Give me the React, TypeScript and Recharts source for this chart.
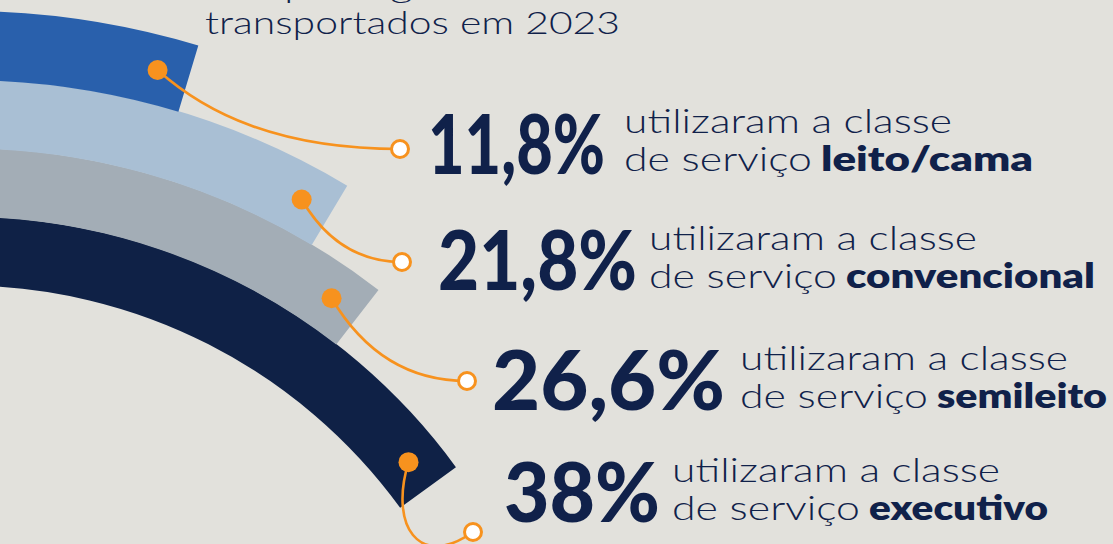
import React from 'react';
import { RadialBarChart, RadialBar, PolarAngleAxis, PolarRadiusAxis, Cell, Sector } from 'recharts';

// ---------- data ----------
const classes = ['executivo', 'semileito', 'convencional', 'leito/cama'];
const shares = [38, 26.6, 21.8, 11.8];
const shareLabels = ['38%', '26,6%', '21,8%', '11,8%'];
const titleLines = ['dos passageiros', 'transportados em 2023'];
const lineOne = 'utilizaram a classe';
const lineTwoPrefix = 'de serviço';
const angleDomain = [0, 100];

const data = classes.map((name, i) => ({ name, value: shares[i] }));

// ---------- styles / layout ----------
const BG = '#e2e1dc';
const NAVY = '#10214a';
const ORANGE = '#f7921e';
const bandColors = ['#0f2146', '#a3adb6', '#a9bfd4', '#2960ac'];
const FONT = "Lato, 'Open Sans', 'Noto Sans', sans-serif";
const NUM_SIZE = 82;
const TITLE_SIZE = 31;

// text blocks (same order as classes)
const anchors = [
  [473, 532],
  [467, 381],
  [402, 262],
  [400, 149],
];
const numberBoxes = [
  { x: 504, y: 522, w: 156 },
  { x: 492, y: 410, w: 233 },
  { x: 438, y: 290, w: 199 },
  { x: 428, y: 174, w: 177 },
];
const textBoxes = [
  { x: 672, y1: 482, y2: 520, bw: 179 },
  { x: 740, y1: 370, y2: 408, bw: 170 },
  { x: 649, y1: 250, y2: 288, bw: 249 },
  { x: 624, y1: 133, y2: 171, bw: 212 },
];
// leader curve control points as fractions of (dx, dy)
const leaderShape = [
  [-0.3, 0.9, 0.15, 1.55],
  [0.2, 0.55, 0.5, 1],
  [0.2, 0.55, 0.5, 1],
  [0.2, 0.55, 0.5, 1],
];

let measureCtx: CanvasRenderingContext2D | null = null;
function measureWidth(text: string, font: string): number {
  try {
    if (!measureCtx) measureCtx = document.createElement('canvas').getContext('2d');
    if (!measureCtx) return 0;
    measureCtx.font = font;
    return measureCtx.measureText(text).width;
  } catch (e) {
    return 0;
  }
}

const BarShape = (props: any) => {
  const { cx, cy, innerRadius, outerRadius, startAngle, endAngle, fill } = props;
  const name = props?.payload?.name ?? props?.name;
  let i = classes.indexOf(name);
  if (i < 0) i = typeof props.index === 'number' ? props.index : 0;
  const rMid = (innerRadius + outerRadius) / 2;
  const back = (32 / rMid) * (180 / Math.PI);
  const sign = Math.sign(startAngle - endAngle) || 1;
  const a = ((endAngle + sign * back) * Math.PI) / 180;
  const x0 = cx + rMid * Math.cos(a);
  const y0 = cy - rMid * Math.sin(a);
  const [x1, y1] = anchors[i];
  const ddx = x1 - x0;
  const ddy = y1 - y0;
  const s = leaderShape[i];
  const c1x = x0 + s[0] * ddx;
  const c1y = y0 + s[1] * ddy;
  const c2x = x0 + s[2] * ddx;
  const c2y = y0 + s[3] * ddy;
  return (
    <g>
      <Sector
        cx={cx}
        cy={cy}
        innerRadius={innerRadius}
        outerRadius={outerRadius}
        startAngle={startAngle}
        endAngle={endAngle}
        fill={fill}
      />
      <path
        d={`M${x0},${y0} C${c1x},${c1y} ${c2x},${c2y} ${x1},${y1}`}
        fill="none"
        stroke={ORANGE}
        strokeWidth={2.6}
      />
      <circle cx={x0} cy={y0} r={10} fill={ORANGE} />
      <circle cx={x1} cy={y1} r={8.5} fill="#ffffff" stroke={ORANGE} strokeWidth={3} />
    </g>
  );
};

const BigNumber = ({ label, x, y, w }: { label: string; x: number; y: number; w: number }) => {
  const natural = measureWidth(label, `900 ${NUM_SIZE}px Lato, 'Open Sans', sans-serif`);
  const ratio = natural > 0 ? Math.min(1, w / natural) : 0.8;
  const size = NUM_SIZE * ratio;
  const sy = NUM_SIZE / size;
  return (
    <g transform={`translate(${x},${y}) scale(1,${sy})`}>
      <text x={0} y={0} fontSize={size} fontWeight={900} textLength={w} lengthAdjust="spacingAndGlyphs">
        {label}
      </text>
    </g>
  );
};

// the cut-off first title line: place it so that its "p" and "g" fall where the reference shows them
const TopTitleLine = () => {
  const font = `300 ${TITLE_SIZE}px Lato, 'Open Sans', sans-serif`;
  const text = titleLines[0];
  const W = measureWidth(text, font);
  const wp = measureWidth(text.slice(0, text.indexOf('p')), font);
  const wg = measureWidth(text.slice(0, text.indexOf('g')), font);
  let x = 205;
  let len = 296;
  if (W > 0 && wg > wp) {
    const s = (390 - 284) / (wg - wp);
    x = 284 - wp * s;
    len = W * s;
  }
  return (
    <text x={x} y={-3} fontSize={TITLE_SIZE} fontWeight={300} textLength={len} lengthAdjust="spacingAndGlyphs">
      {text}
    </text>
  );
};

export default function App() {
  return (
    <div
      style={{
        position: 'fixed',
        left: 0,
        top: 0,
        width: 1113,
        height: 544,
        background: BG,
        overflow: 'hidden',
      }}
    >
      <RadialBarChart
        width={1113}
        height={544}
        data={data}
        cx={-36.5}
        cy={825.5}
        innerRadius={540}
        outerRadius={814}
        startAngle={90}
        endAngle={-52}
        barCategoryGap={0}
        margin={{ top: 0, right: 0, bottom: 0, left: 0 }}
      >
        <PolarAngleAxis type="number" domain={angleDomain} tick={false} axisLine={false} />
        <PolarRadiusAxis type="category" dataKey="name" tick={false} axisLine={false} />
        <RadialBar dataKey="value" isAnimationActive={false} shape={BarShape}>
          {data.map((d, i) => (
            <Cell key={d.name} fill={bandColors[i]} />
          ))}
        </RadialBar>
      </RadialBarChart>
      <svg
        width={1113}
        height={544}
        style={{ position: 'absolute', left: 0, top: 0, pointerEvents: 'none' }}
      >
        <g fontFamily={FONT} fill={NAVY}>
          <TopTitleLine />
          <text x={205} y={34} fontSize={TITLE_SIZE} fontWeight={300} textLength={415} lengthAdjust="spacingAndGlyphs">
            {titleLines[1]}
          </text>
          {classes.map((c, i) => {
            const nb = numberBoxes[i];
            const tb = textBoxes[i];
            return (
              <g key={c}>
                <BigNumber label={shareLabels[i]} x={nb.x} y={nb.y} w={nb.w} />
                <text x={tb.x} y={tb.y1} fontSize={34} fontWeight={300} textLength={328} lengthAdjust="spacingAndGlyphs">
                  {lineOne}
                </text>
                <text x={tb.x} y={tb.y2} fontSize={34} fontWeight={300} textLength={188} lengthAdjust="spacingAndGlyphs">
                  {lineTwoPrefix}
                </text>
                <text
                  x={tb.x + 197}
                  y={tb.y2}
                  fontSize={34}
                  fontWeight={800}
                  textLength={tb.bw}
                  lengthAdjust="spacingAndGlyphs"
                >
                  {c}
                </text>
              </g>
            );
          })}
        </g>
      </svg>
    </div>
  );
}
